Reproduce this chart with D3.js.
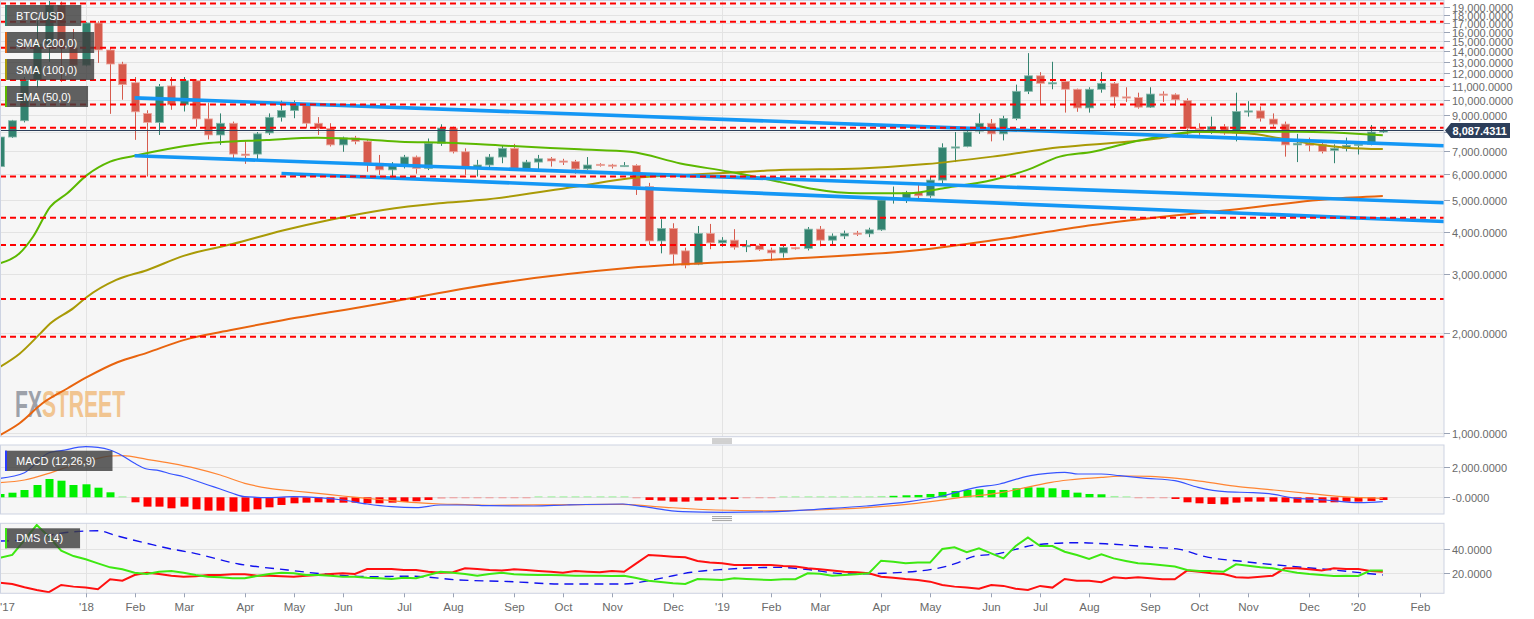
<!DOCTYPE html>
<html>
<head>
<meta charset="utf-8">
<script src="https://cdn.jsdelivr.net/npm/d3@7"></script>
<style>
  body { margin: 0; background: #fff; }
  svg { display: block; font-family: "Liberation Sans", Arial, sans-serif; }
</style>
</head>
<body>
<svg id="chart"></svg>
<script>
// BTC/USD weekly chart with MACD and DMS panels

// ---- data ----
const firstWeek = new Date(2017, 10, 12);   // weekly candles, Sunday start
const lastPrice = 8087.4311;

const opens = [6300,7730,8650,11450,14700,19200,14300,12700,17000,14100,
  12800,11250,9100,8550,11000,9660,11400,8760,7840,8500,
  6870,6870,7950,8860,9280,9660,8500,8200,7320,7680,
  7500,6450,6160,6370,6730,6220,7400,8220,6980,6220,
  6370,6730,7150,6220,6500,6650,6550,6520,6200,6400,
  6370,6330,6350,5490,3770,4110,3520,3210,3970,3720,
  3790,3620,3650,3540,3470,3600,3580,4090,3790,3900,
  3980,3960,4070,5020,5060,5270,5150,5740,7180,7240,
  8050,8500,7900,8780,10600,11800,11200,11350,10750,9450,
  10750,11200,10200,10150,9500,10400,10350,9950,8200,8120,
  8300,7950,9220,9260,8750,8450,7320,7400,7350,7050,
  7150,7300,7350,8000];
const highs = [7950,8700,11700,17300,19800,19700,16300,17100,17200,14300,
  13000,11700,9300,11150,11700,11700,11500,9800,9100,8600,
  7500,8000,9100,9940,9950,9750,8870,8500,7750,7790,
  7600,6830,6500,6830,6800,7650,8440,8300,7150,6600,
  6870,7270,7370,6600,6830,6730,6650,6600,6730,6450,
  6420,6500,6400,5630,4380,4260,3600,4180,4240,3870,
  4090,3790,3700,3600,3660,3620,4150,4180,3970,4050,
  4040,4130,5090,5490,5330,5560,5900,7400,8000,8100,
  9100,8750,8950,11100,13800,12100,13000,11400,10800,10900,
  12100,11300,10900,10500,10900,10600,10450,10100,8500,8900,
  8450,10500,9900,9550,9100,8600,7900,7700,7550,7350,
  7700,7500,8400,8200];
const lows = [5550,7680,8550,10900,13000,11300,12100,12600,12900,9070,
  10000,7580,5880,7840,9330,9220,8300,7600,7320,6630,
  6420,6600,7840,8600,8800,8200,7840,7240,6980,7350,
  6080,5950,5880,6220,6000,6150,7270,6900,5950,5880,
  6270,6450,6160,6160,6160,6300,6370,6000,6160,6300,
  6220,6300,5180,3660,3460,3210,3120,3190,3560,3620,
  3550,3490,3520,3290,3360,3550,3530,3630,3680,3820,
  3900,3870,4040,4880,4900,5060,5080,5600,6500,7200,
  7900,7500,7550,8680,10400,9700,10750,9150,9200,9150,
  10500,9450,9850,9400,9450,9850,9600,7750,7850,7900,
  7850,7500,8900,8600,8300,6750,6500,7000,6900,6450,
  7000,6850,7300,7950];
const closes = [7730,8650,11450,14700,19200,14300,12700,17000,14100,12800,
  11100,9200,8550,10950,9660,11400,8760,7840,8500,6870,
  6800,7900,8860,9280,9660,8500,8200,7320,7680,7500,
  6450,6160,6370,6730,6220,7400,8220,6980,6270,6370,
  6730,7150,6220,6500,6650,6550,6520,6200,6370,6370,
  6330,6350,5490,3770,4110,3440,3190,3970,3720,3790,
  3610,3660,3550,3470,3600,3580,4090,3790,3900,3970,
  3960,4070,5000,5060,5260,5150,5740,7180,7220,8000,
  8500,7900,8780,10600,11800,11200,11250,10750,9450,10750,
  11200,10200,10150,9500,10400,10350,10000,8200,8150,8300,
  7950,9220,9260,8800,8450,7320,7400,7300,7000,7150,
  7300,7350,8000,8087.43];

// moving averages as [week, price]
const sma200 = [[0,986],[1.6,1070],[3.5,1230],[5.5,1360],[7.1,1470],[9.6,1630],[12,1740],[15,1900],
  [19,2040],[23.1,2180],[27.2,2310],[31.3,2450],[35.9,2630],[37.6,2700],[51.5,3130],[63.7,3320],
  [75.7,3560],[82.5,3850],[89.3,4210],[94.8,4450],[100.5,4670],[108.7,5040],[113,5140]];
const sma100 = [[0,1580],[1.6,1730],[3.3,1990],[4.1,2130],[6,2370],[7.1,2560],[9.5,2880],[12,3080],
  [15,3400],[19,3690],[23.1,4050],[27.2,4380],[31.3,4670],[35.9,4890],[39.2,5000],[47.4,5510],
  [51.5,5810],[55.6,5940],[59.6,6040],[63.7,6150],[70.3,6220],[75.7,6410],[81.1,6750],[86.6,7200],
  [92.1,7480],[94.8,7660],[97.8,8020],[101.9,7930],[104.6,7660],[107.3,7360],[110,7180],[113,7110]];
const ema50 = [[0,3230],[1.6,3460],[2.7,3880],[4.1,4770],[5.5,5240],[7.1,5940],[9,6520],[11,6790],
  [13.6,7100],[16.3,7360],[21.8,7570],[25.9,7690],[30,7600],[32.7,7480],[36.5,7430],[41.9,7260],
  [47.4,7100],[51.5,6980],[55.6,6440],[59.6,6080],[63.7,5670],[66.2,5420],[70.3,5240],[74.3,5240],
  [77,5420],[81.1,5740],[83.9,6150],[86.6,6750],[89.3,6980],[92.1,7400],[95,7780],[97.8,8020],
  [106,8020],[113,7830]];

// drawn support / resistance
const trendLines = [
  [[11, 10130], [118, 7280]],
  [[11, 6790], [118, 4910]],
  [[23, 6010], [118, 4310]]
];
const dashedLevels = [19460, 17140, 14320, 11460, 9670, 8240, 5885, 4426, 3665, 2523, 1945];

// MACD (12,26,9)
const macdLine = [[0,1267],[2,1640],[4,2973],[5,3107],[7,3373],[8,3330],[9,3153],[10,2773],[11,2267],
  [12,1887],[13,1780],[14,1553],[15,1373],[16,1100],[17,820],[18,550],[19,267],[20,40],[21,0],
  [22,-20],[24,40],[26,-20],[28,-180],[30,-447],[32,-627],[34,-693],[36,-513],[38,-513],[40,-560],
  [43.6,-580],[46.3,-513],[50.9,-447],[52.6,-627],[55.8,-960],[59.1,-1000],[63.5,-960],[66.7,-800],
  [70.8,-580],[74.3,-293],[77,87],[79.8,667],[81.7,887],[83.3,1267],[84.2,1440],[85.6,1600],
  [87,1667],[88.1,1553],[90,1553],[91.5,1440],[93.7,1267],[96,1107],[97.9,667],[100.1,373],
  [102.4,307],[104.1,200],[105.5,-27],[108.3,-180],[111.1,-360],[113,-293]];
const macdSignal = [[0,973],[2,1153],[4,1600],[6,2153],[8,2600],[9,2753],[10,2773],[12,2533],
  [14,2267],[16,1933],[18,1487],[20,933],[22,600],[24,420],[26,267],[28,87],[30,-67],[32,-227],
  [34,-360],[36,-447],[38,-490],[40,-533],[45,-500],[50.9,-470],[54.4,-667],[58.5,-847],
  [62.6,-900],[66.7,-847],[70.8,-693],[74.9,-400],[79,40],[81.7,300],[83.9,667],[85.9,1000],
  [87.3,1153],[90,1333],[92.3,1420],[94,1400],[96.2,1267],[98.4,1040],[101.2,707],[104.1,487],
  [106.9,267],[109.7,40],[113,-67]];
const macdHist = [220,307,487,820,1220,1107,820,867,640,333,
  15,-333,-622,-622,-733,-622,-800,-889,-889,-956,
  -956,-800,-667,-511,-400,-356,-333,-356,-356,-356,
  -400,-400,-356,-311,-267,-178,-89,-67,-60,-44,
  -22,-20,-15,-10,5,6,6,5,5,5,
  4,3,-40,-178,-222,-289,-289,-222,-178,-133,
  -111,-67,-30,-20,0,8,12,22,30,44,
  67,67,89,100,133,156,222,356,422,489,
  533,489,489,600,667,644,600,489,311,222,
  200,89,44,-30,-44,-67,-111,-333,-400,-444,
  -467,-356,-289,-289,-289,-333,-356,-356,-356,-333,
  -289,-289,-244,-178];

// DMS (14)
const plusDI = [32.8,35.1,47.4,59.8,50.1,38.6,34.2,31.5,28.2,24.9,
  23.3,20.5,19.4,21.3,21.9,20.5,18.6,17.2,16.7,15.9,
  15.9,17.8,19.4,20.5,20.0,18.6,18.6,18.0,17.2,17.2,
  16.4,16.0,15.3,16.4,16.0,18.6,21.3,20.5,19.4,18.0,
  19.4,20.5,19.2,18.8,18.6,18.6,18.3,18.0,18.0,18.0,
  17.8,18.0,16.1,13.9,12.8,11.8,11.2,15.3,14.8,14.5,
  15.9,15.3,14.8,14.5,15.1,15.1,20.0,19.6,18.0,18.6,
  19.2,20.0,30.4,29.6,28.2,28.8,28.8,40.0,41.4,37.3,
  40.5,36.4,32.3,42.5,49.6,42.5,42.5,37.8,35.1,31.8,
  35.6,32.3,30.2,28.2,27.7,26.6,25.5,22.7,21.9,21.9,
  21.3,27.4,26.3,24.9,24.1,22.2,20.5,19.4,18.6,17.8,
  18.0,17.8,22.2,22.2];
const minusDI = [12.3,11.2,8.5,6.3,4.4,10.4,9.0,8.2,6.8,15.1,
  13.9,18.6,20.5,19.4,18.0,17.2,17.6,18.6,18.6,19.2,
  19.2,18.0,18.0,17.6,17.2,18.0,18.6,19.4,20.0,19.4,
  23.5,23.5,23.5,22.7,22.7,21.3,20.5,20.8,24.1,23.6,
  22.7,22.2,23.3,22.7,21.9,21.3,20.5,21.9,21.3,20.8,
  21.9,21.3,28.2,35.1,34.4,33.7,33.2,30.2,28.8,28.2,
  26.8,26.8,26.8,26.8,26.0,25.5,24.1,23.3,22.2,21.3,
  20.8,20.0,17.2,16.4,15.3,14.5,13.1,10.4,9.0,8.2,
  7.2,10.4,9.6,7.2,6.3,9.6,8.2,15.3,13.9,13.9,
  12.6,16.7,15.9,16.7,15.9,15.1,15.1,22.2,21.3,20.0,
  19.4,16.7,16.4,17.2,18.0,24.1,24.1,23.3,22.2,24.1,
  23.6,23.6,21.9,21.3];
const adx = [[0,46.6],[1,46.8],[6,54.2],[8,55.1],[9.5,51],[12,44.7],[14,40],[15.5,37.3],[19.5,27.7],
  [23.5,22.7],[26.5,19.4],[30.5,17.2],[33.5,17.6],[37.5,14.5],[41.5,13.2],[46,11.2],[51,11.2],
  [53,13.9],[55,18.0],[56.5,20.8],[59.3,23.3],[63.7,24.9],[65.8,23.3],[69.4,19.4],[72.2,20],
  [76.2,23.3],[78.3,28.8],[79.5,33.7],[81.7,36.4],[83,39.7],[84.5,43.3],[88,45.2],[90.7,44.1],
  [94.3,41.4],[96.4,39.7],[98.5,33.7],[101.7,29.6],[105.9,25.4],[109,22.7],[111.1,20.5],[113,18.6]];

// axis ticks
const priceTicks = d3.range(1000, 20000, 1000);
const macdTicks = [2000, 0];
const macdTickLabels = ["2,000.0000", "-0.0000"];
const dmsTicks = [40, 20];

const legendMain = ["BTC/USD", "SMA (200,0)", "SMA (100,0)", "EMA (50,0)"];

// ---- layout ----
const width = 1534, height = 619;
const plotRight = 1444;
const main = { top: 0.5, bottom: 436.7 };
const macdP = { top: 445, bottom: 514 };
const dmsP = { top: 523.3, bottom: 593.3 };

const colors = {
  up: '#338370', down: '#d65b4d', upEdge: '#86b9ab', downEdge: '#eca79e',
  sma200: '#e8640e', sma100: '#a99a06', ema50: '#5cb800',
  trend: '#1497f5', level: '#ff0000', price: '#2c3e5a',
  grid: '#e3e3e3', frame: '#cdd3e2', bg: '#f6f6f6', axis: '#6a6a6a'
};
const legendColors = [colors.up, colors.sma200, colors.sma100, colors.ema50];

const svg = d3.select('#chart').attr('width', width).attr('height', height);

const x = d3.scaleLinear().domain([0, 118]).range([0, plotRight]);
const y = d3.scaleLog().domain([974.8, 19920]).range([main.bottom, 0]);
const yMacd = d3.scaleLinear().domain([-1113, 3487]).range([macdP.bottom, macdP.top]);
const yDms = d3.scaleLinear().domain([3.5, 61.2]).range([dmsP.bottom, dmsP.top]);

const fmt = d3.format(',.4f');

// month ticks: first weekly bar that covers the month start
const monthTicks = d3.timeMonth.range(new Date(2018, 0, 1), new Date(2020, 2, 1)).map(m => ({
  i: Math.ceil((d3.timeDay.count(firstWeek, m) - 5) / 7),
  label: m.getMonth() === 0 ? "'" + d3.timeFormat('%y')(m) : d3.timeFormat('%b')(m),
  year: m.getMonth() === 0
}));

// clip paths
const defs = svg.append('defs');
[['clip-main', main], ['clip-macd', macdP], ['clip-dms', dmsP]].forEach(([id, p]) => {
  defs.append('clipPath').attr('id', id)
    .append('rect').attr('x', 0).attr('y', p.top).attr('width', plotRight).attr('height', p.bottom - p.top);
});

// panel backgrounds
[main, macdP, dmsP].forEach(p => {
  svg.append('rect')
    .attr('x', 0.5).attr('y', p.top).attr('width', plotRight - 0.5).attr('height', p.bottom - p.top)
    .attr('fill', colors.bg);
});

// horizontal grid
svg.append('g').selectAll('line').data(priceTicks).enter().append('line')
  .attr('x1', 0).attr('x2', plotRight)
  .attr('y1', d => Math.round(y(d)) + 0.5).attr('y2', d => Math.round(y(d)) + 0.5)
  .attr('stroke', colors.grid);
svg.append('g').selectAll('line').data(macdTicks).enter().append('line')
  .attr('x1', 0).attr('x2', plotRight)
  .attr('y1', d => Math.round(yMacd(d)) + 0.5).attr('y2', d => Math.round(yMacd(d)) + 0.5)
  .attr('stroke', colors.grid);
svg.append('g').selectAll('line').data(dmsTicks).enter().append('line')
  .attr('x1', 0).attr('x2', plotRight)
  .attr('y1', d => Math.round(yDms(d)) + 0.5).attr('y2', d => Math.round(yDms(d)) + 0.5)
  .attr('stroke', colors.grid);

// year grid lines
monthTicks.filter(t => t.year).forEach(t => {
  const xx = Math.round(x(t.i)) + 0.5;
  [main, macdP, dmsP].forEach(p => {
    svg.append('line').attr('x1', xx).attr('x2', xx).attr('y1', p.top).attr('y2', p.bottom)
      .attr('stroke', colors.grid);
  });
});

// watermark (one text, two colours)
const wm = svg.append('text').attr('x', 15).attr('y', 416.5)
  .attr('font-size', 37).attr('font-weight', 'bold')
  .attr('textLength', 110).attr('lengthAdjust', 'spacingAndGlyphs');
wm.append('tspan').attr('fill', '#9da1a9').text('FX');
wm.append('tspan').attr('fill', '#f1c591').text('STREET');

// ---- main panel ----
const gMain = svg.append('g').attr('clip-path', 'url(#clip-main)');

const candles = d3.range(opens.length).map(i => ({
  i, o: opens[i], h: highs[i], l: lows[i], c: closes[i], up: closes[i] >= opens[i]
}));

const bodyW = 8;
const cg = gMain.append('g').selectAll('g').data(candles).enter().append('g');
cg.append('line')
  .attr('x1', d => Math.round(x(d.i)) + 0.5).attr('x2', d => Math.round(x(d.i)) + 0.5)
  .attr('y1', d => y(d.h)).attr('y2', d => y(d.l))
  .attr('stroke', d => d.up ? colors.up : colors.down).attr('stroke-width', 1);
cg.append('rect')
  .attr('x', d => Math.round(x(d.i)) - bodyW / 2 + 0.5)
  .attr('y', d => Math.min(y(d.o), y(d.c)))
  .attr('width', bodyW)
  .attr('height', d => Math.max(1.2, Math.abs(y(d.o) - y(d.c))))
  .attr('fill', d => d.up ? colors.up : colors.down)
  .attr('stroke', d => d.up ? colors.upEdge : colors.downEdge)
  .attr('stroke-width', 0.8);

const maLine = d3.line().x(d => x(d[0])).y(d => y(d[1])).curve(d3.curveMonotoneX);
[[sma200, colors.sma200], [sma100, colors.sma100], [ema50, colors.ema50]].forEach(([s, col]) => {
  gMain.append('path').datum(s).attr('d', maLine)
    .attr('fill', 'none').attr('stroke', col).attr('stroke-width', 2);
});

gMain.append('g').selectAll('line').data(trendLines).enter().append('line')
  .attr('x1', d => x(d[0][0])).attr('y1', d => y(d[0][1]))
  .attr('x2', d => x(d[1][0])).attr('y2', d => y(d[1][1]))
  .attr('stroke', colors.trend).attr('stroke-width', 3.6);

gMain.append('g').selectAll('line').data(dashedLevels).enter().append('line')
  .attr('x1', 0).attr('x2', plotRight)
  .attr('y1', d => y(d)).attr('y2', d => y(d))
  .attr('stroke', colors.level).attr('stroke-width', 2).attr('stroke-dasharray', '6,4');

gMain.append('line')
  .attr('x1', 0).attr('x2', plotRight)
  .attr('y1', Math.round(y(lastPrice)) + 0.5).attr('y2', Math.round(y(lastPrice)) + 0.5)
  .attr('stroke', colors.price).attr('stroke-width', 1);

// ---- MACD panel ----
const gMacd = svg.append('g').attr('clip-path', 'url(#clip-macd)');
const zero = yMacd(0);
gMacd.append('g').selectAll('rect').data(macdHist).enter().append('rect')
  .attr('x', (d, i) => Math.round(x(i)) - bodyW / 2 + 0.5)
  .attr('y', d => d >= 0 ? Math.min(zero - 1, yMacd(d)) : zero)
  .attr('width', bodyW)
  .attr('height', d => Math.max(1, Math.abs(yMacd(d) - zero)))
  .attr('fill', d => d >= 0 ? '#00f000' : '#ff0000')
  .attr('fill-opacity', d => Math.abs(yMacd(d) - zero) < 1.5 ? 0.35 : 1);

const macdPath = d3.line().x(d => x(d[0])).y(d => yMacd(d[1])).curve(d3.curveMonotoneX);
gMacd.append('path').datum(macdSignal).attr('d', macdPath)
  .attr('fill', 'none').attr('stroke', '#ff8533').attr('stroke-width', 1.2);
gMacd.append('path').datum(macdLine).attr('d', macdPath)
  .attr('fill', 'none').attr('stroke', '#3653ff').attr('stroke-width', 1.2);

// ---- DMS panel ----
const gDms = svg.append('g').attr('clip-path', 'url(#clip-dms)');
const diLine = d3.line().x((d, i) => x(i)).y(d => yDms(d));
gDms.append('path').datum(adx)
  .attr('d', d3.line().x(d => x(d[0])).y(d => yDms(d[1])).curve(d3.curveMonotoneX))
  .attr('fill', 'none').attr('stroke', '#1010ee').attr('stroke-width', 1.4)
  .attr('stroke-dasharray', '9,6');
gDms.append('path').datum(minusDI).attr('d', diLine)
  .attr('fill', 'none').attr('stroke', '#ff1010').attr('stroke-width', 2);
gDms.append('path').datum(plusDI).attr('d', diLine)
  .attr('fill', 'none').attr('stroke', '#3ee812').attr('stroke-width', 2);

// panel frames
[main, macdP, dmsP].forEach(p => {
  svg.append('rect')
    .attr('x', 0.5).attr('y', p.top).attr('width', plotRight - 0.5).attr('height', p.bottom - p.top)
    .attr('fill', 'none').attr('stroke', colors.frame);
});

// panel handles
[main.bottom + 4.3, macdP.bottom + 4.6].forEach(cy => {
  [-2, 0, 2].forEach(off => {
    svg.append('line').attr('x1', 712).attr('x2', 732)
      .attr('y1', cy + off).attr('y2', cy + off)
      .attr('stroke', '#8a8a8a').attr('stroke-width', 0.8);
  });
});

// ---- legends ----
function legendBox(label, color, lx, ly, h) {
  const g = svg.append('g');
  const bg = g.append('rect').attr('x', lx).attr('y', ly).attr('height', h)
    .attr('fill', 'rgba(62,62,62,0.82)');
  const t = g.append('text').attr('x', lx + 11).attr('y', ly + h / 2 + 4)
    .attr('font-size', 11).attr('fill', '#fff').text(label);
  bg.attr('width', t.node().getComputedTextLength() + 28);
  g.append('rect').attr('x', lx).attr('y', ly).attr('width', 2).attr('height', h).attr('fill', color);
}
legendMain.forEach((name, k) => legendBox(name, legendColors[k], 5, 5 + k * 27, 21));
legendBox('MACD (12,26,9)', '#2a3cff', 5, macdP.top + 5.7, 20.3);
legendBox('DMS (14)', '#3ee812', 5, dmsP.top + 5, 20);

// ---- axes ----
function yAxis(values, scale, labels) {
  const g = svg.append('g');
  values.forEach((v, k) => {
    const yy = Math.round(scale(v)) + 0.5;
    g.append('line').attr('x1', plotRight).attr('x2', plotRight + 6)
      .attr('y1', yy).attr('y2', yy).attr('stroke', '#9aa3b5');
    g.append('text').attr('x', plotRight + 8).attr('y', yy + 4)
      .attr('font-size', 11).attr('fill', colors.axis)
      .text(labels ? labels[k] : fmt(v));
  });
}
yAxis(priceTicks.slice().reverse(), y);
yAxis(macdTicks, yMacd, macdTickLabels);
yAxis(dmsTicks, yDms);

// current price tag
const py = Math.round(y(lastPrice)) + 0.5;
svg.append('path')
  .attr('d', `M${plotRight + 1},${py} L${plotRight + 7},${py - 7.5} L1510,${py - 7.5} L1510,${py + 7.5} L${plotRight + 7},${py + 7.5} Z`)
  .attr('fill', colors.price);
svg.append('text').attr('x', plotRight + 8.5).attr('y', py + 4)
  .attr('font-size', 11).attr('font-weight', 'bold').attr('fill', '#fff')
  .text(d3.format(',.4f')(lastPrice));

// x axis
const gx = svg.append('g');
monthTicks.filter(t => x(t.i) <= plotRight).forEach(t => {
  const xx = Math.round(x(t.i)) + 0.5;
  gx.append('line').attr('x1', xx).attr('x2', xx).attr('y1', dmsP.bottom).attr('y2', dmsP.bottom + 4)
    .attr('stroke', '#9aa3b5');
  gx.append('text').attr('x', xx).attr('y', 610.5).attr('text-anchor', 'middle')
    .attr('font-size', 11.5).attr('fill', colors.axis).text(t.label);
});
gx.append('text').attr('x', 0).attr('y', 610.5)
  .attr('font-size', 11.5).attr('fill', colors.axis)
  .text("'" + d3.timeFormat('%y')(firstWeek));
</script>
</body>
</html>
